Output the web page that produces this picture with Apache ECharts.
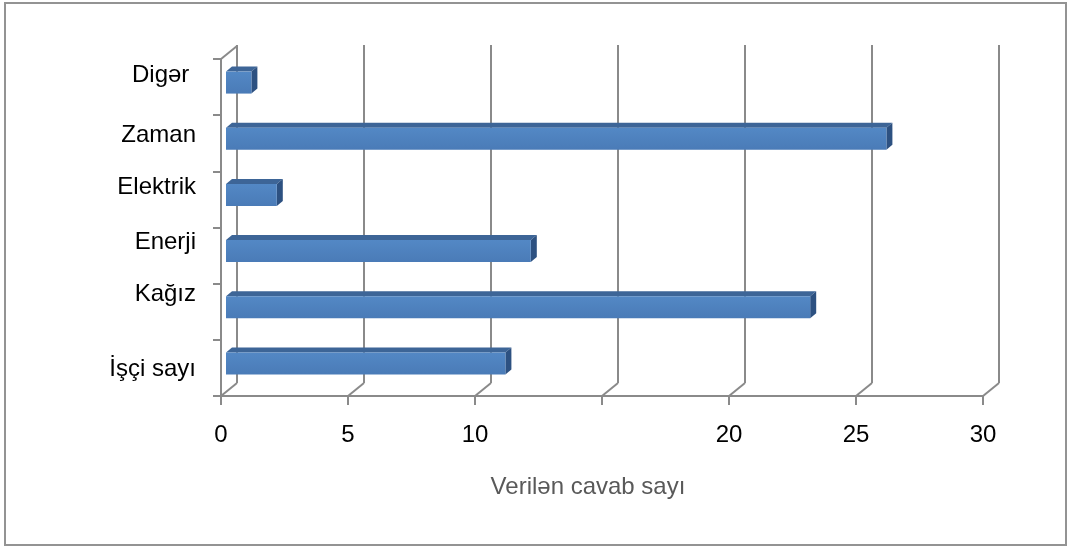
<!DOCTYPE html>
<html>
<head>
<meta charset="utf-8">
<title>Verilən cavab sayı</title>
<script src="https://cdn.jsdelivr.net/npm/echarts@6/dist/echarts.min.js"></script>
<style>
html, body { margin: 0; padding: 0; background: #fff; }
#chart { width: 1068px; height: 547px; }
</style>
</head>
<body>
<div id="chart"></div>
<script>
// data, bottom to top like the category axis draws it
var categories = ['İşçi sayı', 'Kağız', 'Enerji', 'Elektrik', 'Zaman', 'Digər '];
var answers = [11, 23, 12, 2, 26, 1];
var tickValues = [0, 5, 10, 15, 20, 25, 30];
var tickLabels = ['0', '5', '10', '', '20', '25', '30'];
var axisTitle = 'Verilən cavab sayı';

// fake 3d look (excel style)
var DEPTH_X = 16, DEPTH_Y = -13;     // depth of the whole box
var BAR_OFF_X = 5, BAR_OFF_Y = -4.5; // bars sit a bit behind the front plane
var BAR_DX = 6, BAR_DY = -5;         // depth of a bar
var BAR_H = 22;
var labelShift = [1, -17, -13, -12, -8, -12]; // excel puts the labels a bit off centre
var gray = '#8a8a8a';
var font = 'Liberation Sans, Arial, sans-serif';
var FS = 24;

var chart = echarts.init(document.getElementById('chart'));

// one rich style per category label so each can be nudged up/down
var richY = {};
labelShift.forEach(function(s, i) {
	richY['s' + i] = {
		fontSize: FS,
		fontFamily: font,
		color: '#000',
		padding: s < 0 ? [0, 0, -2 * s, 0] : [2 * s, 0, 0, 0]
	};
});

var option = {
	animation: false,
	backgroundColor: '#fff',
	textStyle: { fontFamily: font },
	graphic: [{
		type: 'rect',
		shape: { x: 5, y: 3, width: 1061, height: 542 },
		style: { fill: 'none', stroke: '#939393', lineWidth: 2 },
		silent: true
	}],
	grid: [
		{ left: 221, right: 85, top: 59, bottom: 151 }, // front plane
		{ left: 237, right: 69, top: 45, bottom: 164 }  // back wall
	],
	xAxis: [{
		gridIndex: 0,
		type: 'value',
		min: 0,
		max: 30,
		interval: 5,
		axisLine: { show: true, lineStyle: { color: gray, width: 2 } },
		axisTick: { show: true, length: 9, lineStyle: { color: gray, width: 2 } },
		axisLabel: {
			margin: 27,
			fontSize: FS,
			color: '#000',
			fontFamily: font,
			formatter: function(v) {
				var k = tickValues.indexOf(v);
				return k < 0 ? '' : tickLabels[k];
			}
		},
		splitLine: { show: false },
		name: axisTitle,
		nameLocation: 'middle',
		nameGap: 79,
		nameTextStyle: { color: '#595959', fontSize: FS, fontFamily: font, padding: [0, 28, 0, 0] }
	}, {
		gridIndex: 1,
		type: 'value',
		min: 0,
		max: 30,
		interval: 5,
		axisLine: { show: false },
		axisTick: { show: false },
		axisLabel: { show: false },
		splitLine: { show: true, lineStyle: { color: gray, width: 2 } }
	}],
	yAxis: [{
		gridIndex: 0,
		type: 'category',
		data: categories,
		axisLine: { show: true, lineStyle: { color: gray, width: 2 } },
		axisTick: { show: true, length: 8, lineStyle: { color: gray, width: 2 } },
		axisLabel: {
			margin: 25,
			fontSize: FS,
			color: '#000',
			fontFamily: font,
			formatter: function(val, idx) {
				return '{s' + idx + '|' + val + '}';
			},
			rich: richY
		},
		splitLine: { show: false }
	}, {
		gridIndex: 1,
		type: 'value',
		show: false,
		splitLine: { show: false }
	}],
	series: [{
		// floor diagonals + top of the left wall
		type: 'custom',
		xAxisIndex: 0,
		yAxisIndex: 0,
		silent: true,
		data: tickValues.map(function(v) { return [v, 0]; }),
		renderItem: function(params, api) {
			var v = api.value(0);
			var cs = params.coordSys;
			var x = api.coord([v, 0])[0];
			var yb = cs.y + cs.height;
			var st = { stroke: gray, lineWidth: 2 };
			var kids = [{
				type: 'line',
				shape: { x1: x, y1: yb, x2: x + DEPTH_X, y2: yb + DEPTH_Y },
				style: st
			}];
			if (v === 0) {
				kids.push({
					type: 'line',
					shape: { x1: x, y1: cs.y, x2: x + DEPTH_X, y2: cs.y + DEPTH_Y },
					style: st
				});
			}
			return { type: 'group', children: kids };
		}
	}, {
		// 3d bars
		type: 'custom',
		xAxisIndex: 0,
		yAxisIndex: 0,
		data: answers.map(function(v, i) { return [v, i]; }),
		encode: { x: 0, y: 1 },
		renderItem: function(params, api) {
			var val = api.value(0), idx = api.value(1);
			var p0 = api.coord([0, idx]);
			var p1 = api.coord([val, idx]);
			var x0 = p0[0] + BAR_OFF_X, x1 = p1[0] + BAR_OFF_X;
			var yc = p0[1] + BAR_OFF_Y;
			var top = yc - BAR_H / 2, bot = yc + BAR_H / 2;
			return {
				type: 'group',
				children: [{
					type: 'polygon',
					shape: { points: [[x0, top], [x0 + BAR_DX, top + BAR_DY], [x1 + BAR_DX, top + BAR_DY], [x1, top]] },
					style: { fill: '#3d6597' }
				}, {
					type: 'polygon',
					shape: { points: [[x1, top], [x1 + BAR_DX, top + BAR_DY], [x1 + BAR_DX, bot + BAR_DY], [x1, bot]] },
					style: { fill: '#2d5181' }
				}, {
					type: 'rect',
					shape: { x: x0, y: top, width: x1 - x0, height: bot - top },
					style: {
						fill: new echarts.graphic.LinearGradient(0, 0, 0, 1, [
							{ offset: 0, color: '#5388c5' },
							{ offset: 1, color: '#4a7bb7' }
						])
					}
				}]
			};
		}
	}]
};

chart.setOption(option);
</script>
</body>
</html>
